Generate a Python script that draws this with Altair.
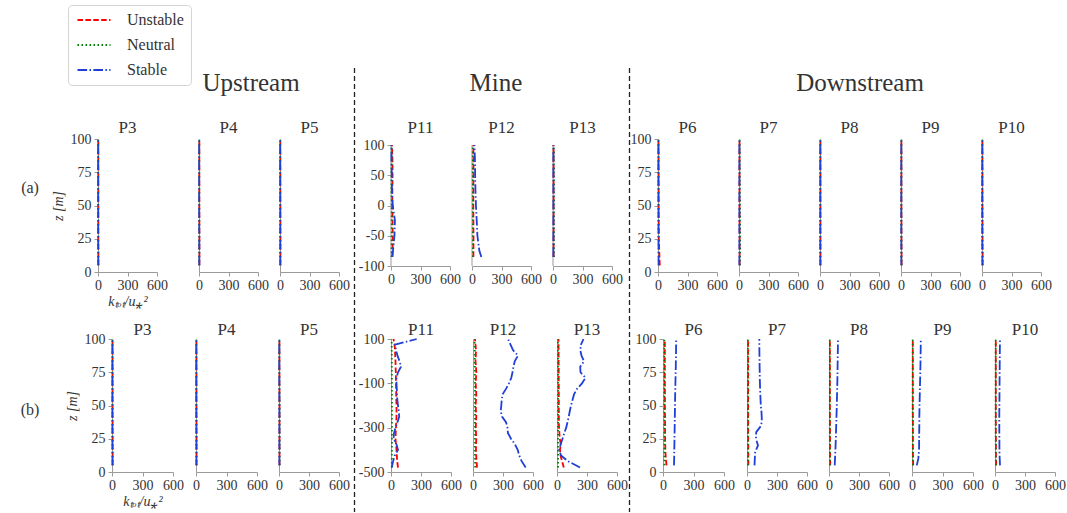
import altair as alt
import pandas as pd

# ---------------------------------------------------------------- data
CASES = ["Unstable", "Neutral", "Stable"]
GROUPS = ["Upstream", "Mine", "Downstream"]
ROW_TAGS = ["(a)", "(b)"]
UPSTREAM = ["P3", "P4", "P5"]
MINE = ["P11", "P12", "P13"]
DOWNSTREAM = ["P6", "P7", "P8", "P9", "P10"]

K_TICKS = [0, 300, 600]
Z_TICKS_SURF = [0, 25, 50, 75, 100]
Z_TICKS_MINE_A = [-100, -50, 0, 50, 100]
Z_TICKS_MINE_B = [-500, -300, -100, 100]

# sampling heights [m]
Z_COARSE = [5, 25, 50, 75, 100]
Z_FINE = [5, 10, 15, 20, 25, 30, 35, 40, 45, 50, 60, 70, 80, 90, 100]
Z_MINE_A = [100, 75, 50, 25, 0, -25, -50, -75, -85]
Z_MINE_B = [100, 75, 50, 25, 0, -25, -50, -75, -100, -125, -150, -175,
            -200, -225, -250, -275, -300, -325, -350, -375, -400, -425,
            -450, -480]

# (a) normalised total TKE k_tot/u*^2
A_UNSTABLE = {
    "P3": [4, 3, 3, 3, 3], "P4": [4, 4, 3, 3, 3], "P5": [4, 4, 3, 3, 3],
    "P11": [10, 15, 16, 14, 12, 16, 18, 15, 12],
    "P12": [14, 15, 15, 14, 13, 14, 15, 15, 14],
    "P13": [6, 6, 6, 6, 6, 6, 6, 6, 6],
    "P6": [18, 8, 6, 6, 5], "P7": [6, 6, 5, 5, 5], "P8": [5, 4, 4, 4, 4],
    "P9": [6, 5, 4, 4, 4], "P10": [7, 5, 4, 4, 4],
}
A_NEUTRAL = {
    "P3": [3, 3, 2, 2, 2], "P4": [3, 3, 3, 3, 3], "P5": [3, 3, 3, 3, 3],
    "P11": [6, 6, 5, 5, 8, 8, 7, 6, 6],
    "P12": [8, 8, 8, 9, 9, 10, 10, 10, 10],
    "P13": [8, 8, 9, 9, 9, 9, 9, 9, 9],
    "P6": [8, 6, 5, 5, 5], "P7": [10, 12, 10, 8, 7], "P8": [4, 4, 4, 4, 4],
    "P9": [5, 4, 4, 4, 4], "P10": [5, 4, 4, 4, 4],
}
A_STABLE = {
    "P3": [3, 2, 2, 2, 2], "P4": [3, 3, 2, 2, 2], "P5": [3, 3, 3, 2, 2],
    "P11": [5, 5, 8, 10, 18, 40, 35, 20, 15],
    "P12": [25, 30, 32, 35, 40, 48, 55, 75, 95],
    "P13": [4, 4, 4, 4, 4, 4, 4, 4, 4],
    "P6": [6, 5, 5, 4, 4], "P7": [4, 4, 4, 4, 4], "P8": [3, 3, 3, 3, 3],
    "P9": [4, 3, 3, 3, 3], "P10": [4, 3, 3, 3, 3],
}

# (b)
B_UNSTABLE = {
    "P3": [6, 6, 5, 5, 5], "P4": [5, 5, 4, 4, 4], "P5": [5, 5, 5, 4, 4],
    "P11": [25, 35, 40, 42, 45, 46, 48, 49, 50, 51, 52, 53, 55, 55, 55, 52,
            50, 47, 45, 50, 55, 58, 62, 70],
    "P12": [20, 25, 30, 28, 25, 30, 33, 30, 27, 30, 33, 30, 27, 30, 33, 30,
            28, 30, 33, 30, 30, 32, 35, 40],
    "P13": [15, 15, 16, 16, 16, 17, 17, 17, 17, 18, 18, 18, 18, 18, 19, 19,
            20, 24, 28, 38, 30, 35, 50, 68],
    "P6": [35, 28, 24, 22, 21, 20, 20, 20, 19, 19, 19, 18, 18, 18, 18],
    "P7": [14, 13, 13, 13, 12, 12, 12, 12, 12, 12, 12, 12, 12, 12, 12],
    "P8": [13, 11, 10, 10, 10, 10, 10, 9, 9, 9, 9, 9, 9, 9, 9],
    "P9": [12, 10, 9, 9, 9, 9, 9, 9, 8, 8, 8, 8, 8, 8, 8],
    "P10": [12, 10, 9, 9, 9, 8, 8, 8, 8, 8, 8, 8, 8, 8, 8],
}
B_NEUTRAL = {
    "P3": [6, 5, 5, 5, 5], "P4": [5, 4, 4, 4, 4], "P5": [6, 5, 5, 4, 4],
    "P11": [6, 7, 7, 8, 8, 8, 8, 9, 9, 9, 9, 9, 9, 9, 9, 9, 9, 9, 9, 9, 9,
            8, 8, 8],
    "P12": [15, 16, 18, 18, 18, 19, 19, 19, 20, 20, 20, 20, 20, 20, 20, 20,
            20, 20, 20, 20, 20, 20, 21, 22],
    "P13": [8, 9, 9, 10, 10, 10, 10, 10, 10, 10, 10, 10, 10, 10, 10, 10, 10,
            10, 10, 10, 10, 11, 11, 11],
    "P6": [14, 14, 13, 13, 13, 13, 13, 13, 12, 12, 12, 12, 12, 12, 12],
    "P7": [11, 10, 10, 10, 10, 9, 9, 9, 9, 9, 9, 9, 9, 9, 9],
    "P8": [10, 9, 9, 9, 8, 8, 8, 8, 8, 8, 8, 8, 8, 8, 8],
    "P9": [9, 8, 8, 8, 8, 8, 8, 7, 7, 7, 7, 7, 7, 7, 7],
    "P10": [9, 8, 8, 8, 7, 7, 7, 7, 7, 7, 7, 7, 7, 7, 7],
}
B_STABLE = {
    "P3": [5, 4, 4, 4, 4], "P4": [4, 4, 3, 3, 3], "P5": [4, 4, 4, 3, 3],
    "P11": [257, 40, 50, 65, 85, 100, 70, 55, 55, 58, 60, 63, 70, 78, 82,
            65, 45, 30, 25, 55, 70, 38, 22, 7],
    "P12": [350, 375, 400, 450, 418, 405, 395, 383, 360, 330, 295, 287, 283,
            277, 290, 330, 345, 350, 380, 420, 447, 462, 485, 527],
    "P13": [265, 240, 233, 245, 270, 232, 235, 285, 250, 200, 170, 155, 140,
            128, 118, 105, 92, 72, 55, 37, 22, 40, 105, 230],
    "P6": [108, 110, 110, 112, 113, 114, 115, 116, 117, 118, 120, 123, 126,
           128, 130],
    "P7": [75, 78, 82, 110, 90, 92, 143, 148, 145, 138, 132, 128, 126, 124,
           123],
    "P8": [57, 60, 63, 66, 68, 70, 72, 74, 76, 78, 81, 84, 86, 88, 90],
    "P9": [47, 62, 68, 70, 70, 71, 72, 72, 73, 74, 77, 80, 83, 85, 87],
    "P10": [50, 47, 45, 44, 44, 43, 43, 43, 43, 44, 45, 46, 47, 48, 50],
}

# ---------------------------------------------------------------- style
SERIF = "Liberation Serif"
TEXT = "#333333"
GRAY = "#9a9a9a"
COLORS = ["#ff0000", "#008000", "#1f3fd6"]
DASHES = [[5.5, 2.4], [1.5, 2.5], [9.6, 2.4, 1.5, 2.4]]
ONE = pd.DataFrame({"n": [0]})

TOP = 139               # height of the heading band above row (a)

# legend swatches: a 33 px horizontal stroke drawn from the symbol's left edge
LEGEND = alt.Legend(
    title=None, orient="none", legendX=68, legendY=5 - TOP,
    symbolType="M-1,0H5", symbolSize=121, symbolStrokeWidth=2,
    labelFont=SERIF, labelFontSize=16, labelColor=TEXT, labelOffset=36,
    padding=7, rowPadding=9, fillColor="white", strokeColor="#d4d4d4",
    cornerRadius=4,
)

# plot-area placement of each row: left edges and widths (px)
ROW_A_X = [98, 199, 280, 391, 472, 553, 658, 739, 820, 901, 982]
ROW_A_W = [59] * 11
ROW_B_X = [112, 196, 279, 391, 473, 557, 663, 747, 829, 912, 995]
ROW_B_W = [61, 61, 60, 60, 60, 60, 61, 60, 60, 61, 60]
PANEL_H = 133
MINE_A_H = 127          # mine panels of row (a) are a little shorter
ROW_A_BLOCK = 200       # row (a) height plus the gap to row (b)
TITLE_GAP = [6, 4]      # panel-name baseline above the plot, per row

# shared grid columns: each column holds the panel of both rows
COL_L = [min(a, b) for a, b in zip(ROW_A_X, ROW_B_X)]
COL_R = [max(a + wa, b + wb) for a, wa, b, wb in zip(ROW_A_X, ROW_A_W, ROW_B_X, ROW_B_W)]
COL_W = [r - l for l, r in zip(COL_L, COL_R)]
GAPS = [COL_L[0]] + [COL_L[i] - COL_R[i - 1] for i in range(1, len(COL_L))]


def spacer(w, h):
    return (
        alt.Chart(ONE)
        .mark_rect(opacity=0)
        .encode(x=alt.value(0), x2=alt.value(1), y=alt.value(0), y2=alt.value(1))
        .properties(width=w, height=h)
    )


def panel(name, zs, unstable, neutral, stable, col_w, off, width, height,
          zdom, zticks, first, labelled, title_gap):
    rows = []
    for case, vals in zip(CASES, [unstable, neutral, stable]):
        for z, k in zip(zs, vals):
            rows.append({"case": case, "z": z, "k": k})
    df = pd.DataFrame(rows)

    xaxis = alt.Axis(values=K_TICKS, labelFlush=False,
                     title="kₜₒₜ/u⁎²" if labelled else None)
    yaxis = alt.Axis(values=zticks, labels=first, ticks=first,
                     labelExpr="datum.value + ''", offset=-off,
                     title="z [m]" if labelled else None,
                     domain=(zdom[1] == zticks[-1]))
    xenc = alt.X("k:Q", scale=alt.Scale(domain=[0, 600], nice=False,
                                        range=[off, off + width]), axis=xaxis)
    yenc = alt.Y("z:Q", scale=alt.Scale(domain=zdom, nice=False, zero=False),
                 axis=yaxis)

    line = alt.Chart(df).mark_line(strokeWidth=1.8).encode(
        x=xenc, y=yenc,
        color=alt.Color("case:N", scale=alt.Scale(domain=CASES, range=COLORS),
                        legend=LEGEND),
        strokeDash=alt.StrokeDash("case:N",
                                  scale=alt.Scale(domain=CASES, range=DASHES),
                                  legend=LEGEND),
        order=alt.Order("z:Q"),
    )
    name_text = alt.Chart(ONE).mark_text(
        font=SERIF, fontSize=17, color=TEXT, baseline="alphabetic", align="center"
    ).encode(x=alt.value(off + width / 2), y=alt.value(-title_gap),
             text=alt.value(name))
    layers = [line, name_text]
    if zdom[1] != zticks[-1]:
        spine = pd.DataFrame({"k": [0], "z": [zticks[0]], "z2": [zticks[-1]]})
        layers.insert(0, alt.Chart(spine).mark_rule(color=GRAY, strokeWidth=1)
                      .encode(x=xenc, y=yenc, y2="z2:Q"))
    return alt.layer(*layers).properties(width=col_w, height=height)


# ---------------------------------------------------------------- heading
def label(text, x, y, size, baseline="alphabetic"):
    return alt.Chart(ONE).mark_text(
        font=SERIF, fontSize=size, color=TEXT, baseline=baseline, align="center"
    ).encode(x=alt.value(x), y=alt.value(y - TOP), text=alt.value(text))


anchor = alt.Chart(ONE).mark_rect(opacity=0).encode(
    x=alt.value(0), x2=alt.value(1), y=alt.value(-TOP), y2=alt.value(1 - TOP))
group_titles = [label(g, x, 91, 25) for g, x in zip(GROUPS, [251, 496, 860])]
row_tags = [label(t, 30, y, 16, "middle") for t, y in zip(ROW_TAGS, [188, 410])]
separators = [
    alt.Chart(ONE).mark_rule(color="#222222", strokeWidth=1.3, strokeDash=[5, 3])
    .encode(x=alt.value(x), y=alt.value(68 - TOP), y2=alt.value(512 - TOP))
    for x in [354.5, 629.5]
]
heading = alt.layer(anchor, *group_titles, *row_tags, *separators).properties(
    width=GAPS[0], height=ROW_A_BLOCK)

# ---------------------------------------------------------------- panels
ORDER = UPSTREAM + MINE + DOWNSTREAM
items = []

for r, (xs, ws, U, N, S) in enumerate([
        (ROW_A_X, ROW_A_W, A_UNSTABLE, A_NEUTRAL, A_STABLE),
        (ROW_B_X, ROW_B_W, B_UNSTABLE, B_NEUTRAL, B_STABLE)]):
    for i, name in enumerate(ORDER):
        if i == 0:
            items.append(heading if r == 0 else spacer(GAPS[0], PANEL_H))
        else:
            items.append(spacer(GAPS[i], PANEL_H))
        first = name in ("P3", "P11", "P6")
        labelled = name == "P3"
        h = PANEL_H
        if name in MINE:
            if r == 0:
                zs, zticks, zdom = Z_MINE_A, Z_TICKS_MINE_A, [-100, 100 + 6 * 200 / 121]
                h = MINE_A_H
            else:
                zs, zticks, zdom = Z_MINE_B, Z_TICKS_MINE_B, [-500, 100]
        else:
            zs = Z_FINE if (r == 1 and name in DOWNSTREAM) else Z_COARSE
            zticks, zdom = Z_TICKS_SURF, [0, 100]
        items.append(panel(name, zs, U[name], N[name], S[name], COL_W[i],
                           xs[i] - COL_L[i], ws[i], h, zdom, zticks,
                           first, labelled, TITLE_GAP[r]))

chart = (
    alt.concat(*items, columns=22, spacing=0, bounds="flush", align="each")
    .properties(padding=0)
    .configure_view(strokeWidth=0)
    .configure_axis(
        labelFont=SERIF, labelFontSize=14, labelColor=TEXT,
        titleFont=SERIF, titleFontSize=14, titleColor=TEXT,
        titleFontWeight="normal", titleFontStyle="italic",
        domainColor=GRAY, tickColor=GRAY, tickSize=4, grid=False,
    )
    .configure_axisX(labelPadding=2, titlePadding=2)
    .configure_axisY(labelPadding=3, titlePadding=5)
)

chart.save("out.html", embed_options={"renderer": "svg", "actions": False})
